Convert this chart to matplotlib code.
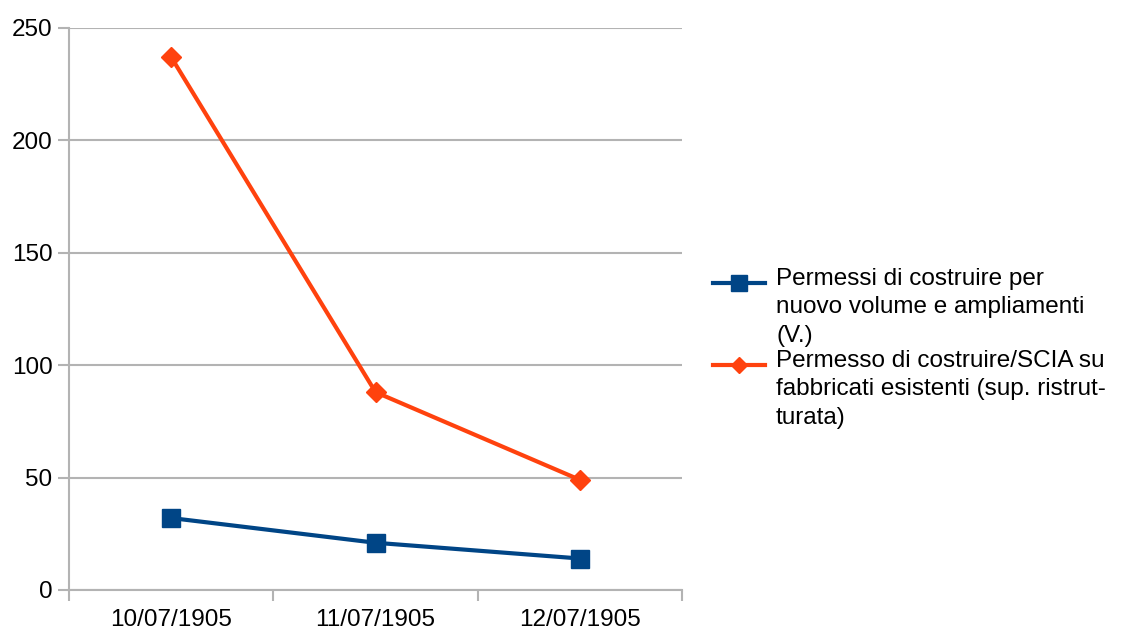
import numpy as np
import matplotlib
matplotlib.use('Agg')
import matplotlib.pyplot as plt
from matplotlib.lines import Line2D

plt.rcParams['font.family'] = ['Liberation Sans', 'DejaVu Sans']

dates = ['10/07/1905', '11/07/1905', '12/07/1905']
nuovo_volume = [32, 21, 14]
fabbricati_esistenti = [237, 88, 49]
label_blue = 'Permessi di costruire per\nnuovo volume e ampliamenti\n(V.)'
label_orange = 'Permesso di costruire/SCIA su\nfabbricati esistenti (sup. ristrut-\nturata)'

blue = '#004586'
orange = '#ff420e'
grid_col = '#b3b3b3'
fs = 17.5

fig = plt.figure(figsize=(11.21, 6.32), dpi=100)
ax = fig.add_axes([0.0616, 0.0665, 0.5468, 0.8892])

x = np.arange(len(dates))
ax.plot(x, nuovo_volume, color=blue, lw=3, marker='s', ms=13, zorder=3)
ax.plot(x, fabbricati_esistenti, color=orange, lw=3, marker='D', ms=10, zorder=3)

ax.set_xlim(-0.5, 2.5)
ax.set_ylim(0, 250)
ax.set_yticks(np.arange(0, 251, 50))
ax.set_xticks(x)
ax.set_xticklabels(dates, fontsize=fs)
ax.set_xticks([-0.5, 0.5, 1.5, 2.5], minor=True)
ax.tick_params(axis='x', which='major', length=0, pad=14)
ax.tick_params(axis='x', which='minor', length=8, width=1.5, color=grid_col)
ax.tick_params(axis='y', length=8, width=1.5, color=grid_col, labelsize=fs, pad=4)
ax.grid(axis='y', color=grid_col, lw=1.5)
ax.set_axisbelow(True)
for s in ['top', 'right']:
    ax.spines[s].set_visible(False)
for s in ['left', 'bottom']:
    ax.spines[s].set_color(grid_col)
    ax.spines[s].set_linewidth(1.5)

# legend drawn by hand so the key sits on the first text line
def legend_entry(y, color, marker, ms, text):
    fy = 1 - y / 632
    fig.add_artist(Line2D([713 / 1121, 765 / 1121], [fy, fy], color=color, lw=3,
                          transform=fig.transFigure))
    fig.add_artist(Line2D([739 / 1121], [fy], color=color, marker=marker, ms=ms,
                          transform=fig.transFigure))
    fig.text(776 / 1121, fy + 15 / 632, text, fontsize=fs, va='top', ha='left',
             linespacing=1.38)

legend_entry(283, blue, 's', 11, label_blue)
legend_entry(365, orange, 'D', 8, label_orange)

fig.savefig('out.png', dpi=100)
